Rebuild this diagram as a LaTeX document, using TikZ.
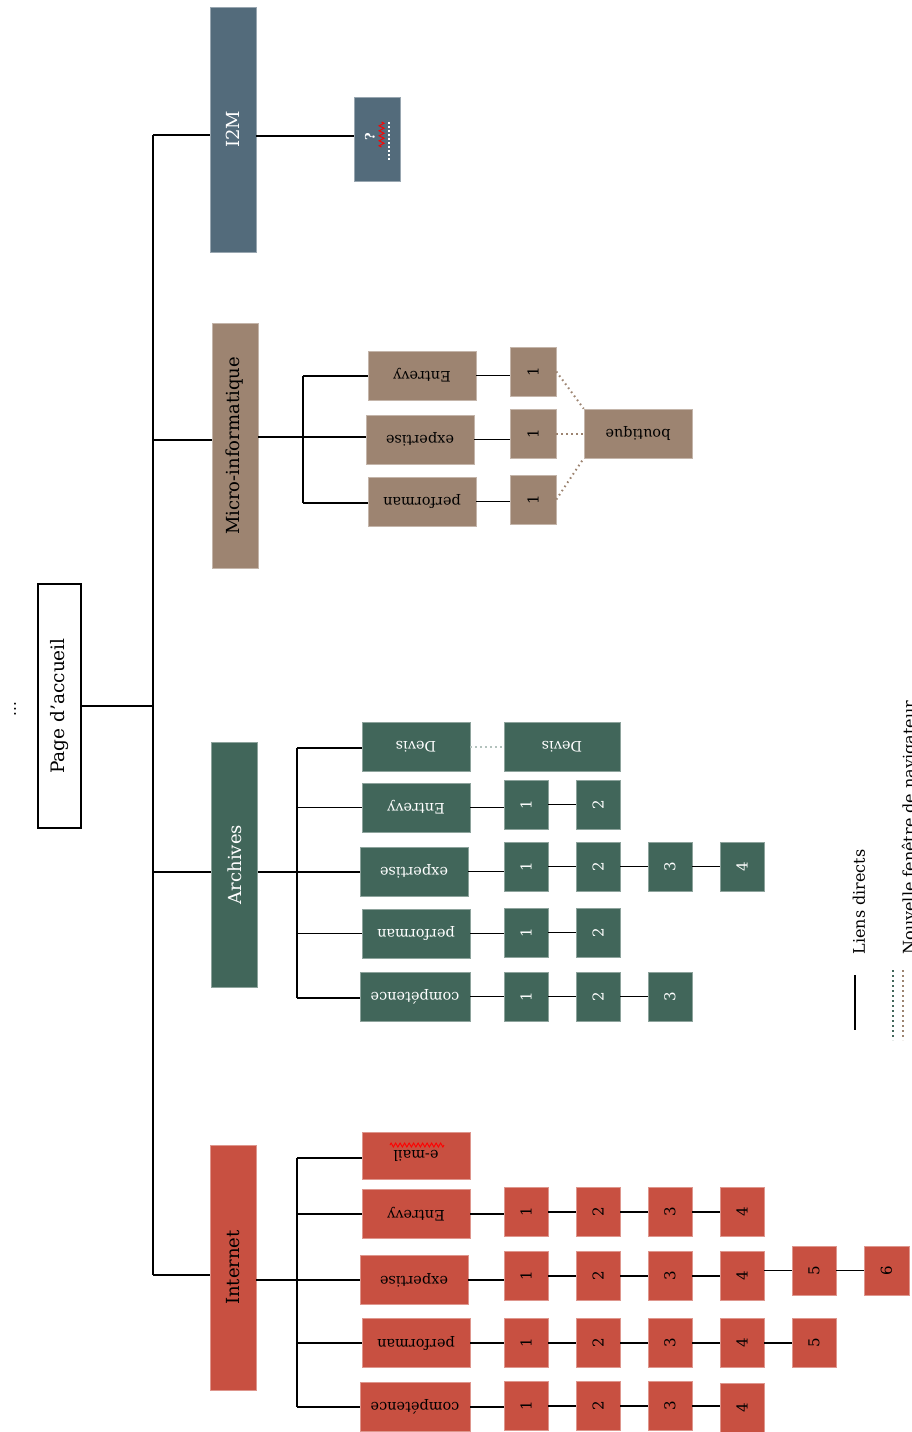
\documentclass[tikz,border=0pt]{standalone}
\usepackage{fontspec}
\setmainfont{DejaVu Serif}
\usetikzlibrary{decorations.pathmorphing}
\definecolor{cI}{HTML}{536B7B}
\definecolor{cM}{HTML}{9D8471}
\definecolor{cA}{HTML}{41665A}
\definecolor{cN}{HTML}{C85041}
\newcommand\rnine[1]{\rotatebox{90}{#1}}
\newcommand\rflip[1]{\rotatebox{180}{#1}}
\begin{document}
\begin{tikzpicture}[x=1pt,y=-1pt,
  box/.style={draw=#1!60!white, line width=0.6pt, fill=#1, inner sep=0pt},
  mainbox/.style={box=#1, minimum width=46pt, minimum height=245pt, font=\fontsize{18}{20}\selectfont},
  labbox/.style={box=#1, minimum width=108pt, minimum height=49pt, font=\fontsize{14.5}{16}\selectfont},
  numbox/.style={box=#1, minimum width=44pt, minimum height=49pt, font=\fontsize{15}{16}\selectfont},
  ln/.style={line width=1.4pt, black},
  dotln/.style={line width=2pt, dash pattern=on 1.6pt off 3.4pt, #1}
]
\useasboundingbox (0,0) rectangle (911,1432);

% root
\node[draw, line width=1.4pt, fill=white, minimum width=43pt, minimum height=244pt, inner sep=0pt,
  font=\fontsize{18.5}{20}\selectfont] (page) at (59.5,706) {\rnine{Page d'accueil}};
\node[font=\fontsize{15}{16}\selectfont] (dots) at (15,709) {\rnine{...}};

% main boxes
\node[mainbox=cI, text=white] (i2m) at (233,129.5) {\rnine{I2M}};
\node[mainbox=cM, text=black] (micro) at (235,446) {\rnine{Micro-informatique}};
\node[mainbox=cA, text=white] (arch) at (234.5,864.5) {\rnine{Archives}};
\node[mainbox=cN, text=black] (inet) at (233,1267.5) {\rnine{Internet}};

% trunk
\coordinate (tT) at (153,135);
\coordinate (tM) at (153,440);
\coordinate (tA) at (153,872);
\coordinate (tB) at (153,1275);
\draw[ln] (tT) -- (tB);
\draw[ln] (page.east) -- (page.east -| tT);
\draw[ln] (tT) -- (tT -| i2m.west);
\draw[ln] (tM) -- (tM -| micro.west);
\draw[ln] (tA) -- (tA -| arch.west);
\draw[ln] (tB) -- (tB -| inet.west);

% I2M child
\node[box=cI, minimum width=46pt, minimum height=84pt] (i2mc) at (377,139) {};
\draw[ln] (i2m.east |- 0,136) -- (i2mc.west |- 0,136);
\node[text=white, font=\fontsize{13}{14}\selectfont\bfseries] (q) at (370,137) {\rnine{?}};
\draw[red, line width=0.9pt, decorate, decoration={zigzag, amplitude=2.5pt, segment length=5pt}] (381.5,122) -- (381.5,147);
\draw[white, line width=1.6pt, dash pattern=on 1.5pt off 2.5pt] (389,122) -- (389,160);

% Micro-informatique
\node[labbox=cM] (mEnt) at (422,375.5) {\rflip{Entrevy}};
\node[labbox=cM] (mExp) at (420,439.5) {\rflip{expertise}};
\node[labbox=cM] (mPer) at (422,501.5) {\rflip{performan}};
\node[numbox=cM, minimum width=46pt] (m1a) at (533,371.5) {\rnine{1}};
\node[numbox=cM, minimum width=46pt] (m1b) at (533,433.5) {\rnine{1}};
\node[numbox=cM, minimum width=46pt] (m1c) at (533,499.5) {\rnine{1}};
\node[labbox=cM] (bout) at (638,433.5) {\rflip{boutique}};
\coordinate (mT) at (303,376);
\coordinate (mB) at (303,503);
\draw[ln] (mT) -- (mB);
\draw[ln] (micro.east |- 0,437) -- (mExp.west |- 0,437);
\draw[ln] (mT) -- (mT -| mEnt.west);
\draw[ln] (mB) -- (mB -| mPer.west);
\draw[ln] (mEnt.east) -- (mEnt.east -| m1a.west);
\draw[ln] (mExp.east) -- (mExp.east -| m1b.west);
\draw[ln] (mPer.east) -- (mPer.east -| m1c.west);
\draw[dotln=cM] (m1a.east) -- (bout.north west);
\draw[dotln=cM] (m1b.east) -- (bout.west);
\draw[dotln=cM] (m1c.east) -- (bout.south west);

% Archives
\begin{scope}[every node/.append style={text=white}]
\node[labbox=cA] (aDev) at (416,746.5) {\rflip{Devis}};
\node[labbox=cA, minimum width=116pt] (aDev2) at (562,746.5) {\rflip{Devis}};
\node[labbox=cA] (aEnt) at (416,807.5) {\rflip{Entrevy}};
\node[numbox=cA] (aE1) at (526,804.5) {\rnine{1}};
\node[numbox=cA] (aE2) at (598,804.5) {\rnine{2}};
\node[labbox=cA] (aExp) at (414,871.5) {\rflip{expertise}};
\node[numbox=cA] (aX1) at (526,866.5) {\rnine{1}};
\node[numbox=cA] (aX2) at (598,866.5) {\rnine{2}};
\node[numbox=cA] (aX3) at (670,866.5) {\rnine{3}};
\node[numbox=cA] (aX4) at (742,866.5) {\rnine{4}};
\node[labbox=cA] (aPer) at (416,933.5) {\rflip{performan}};
\node[numbox=cA] (aP1) at (526,932.5) {\rnine{1}};
\node[numbox=cA] (aP2) at (598,932.5) {\rnine{2}};
\node[labbox=cA, minimum width=110pt] (aCom) at (415,996.5) {\rflip{compétence}};
\node[numbox=cA] (aC1) at (526,996.5) {\rnine{1}};
\node[numbox=cA] (aC2) at (598,996.5) {\rnine{2}};
\node[numbox=cA] (aC3) at (670,996.5) {\rnine{3}};
\end{scope}
\coordinate (aT) at (297,748);
\coordinate (aB) at (297,998);
\draw[ln] (aT) -- (aB);
\draw[ln] (arch.east |- tA) -- (aExp.west |- tA);
\draw[ln] (aT) -- (aT -| aDev.west);
\draw[ln] (aEnt.west -| aT) -- (aEnt.west);
\draw[ln] (aPer.west -| aT) -- (aPer.west);
\draw[ln] (aB) -- (aB -| aCom.west);
\draw[dotln=cA!40!white] (aDev.east) -- (aDev2.west);
\draw[ln] (aEnt.east) -- (aEnt.east -| aE1.west);
\draw[ln] (aE1) -- (aE2);
\draw[ln] (aExp.east) -- (aExp.east -| aX1.west);
\draw[ln] (aX1) -- (aX2); \draw[ln] (aX2) -- (aX3); \draw[ln] (aX3) -- (aX4);
\draw[ln] (aPer.east) -- (aPer.east -| aP1.west);
\draw[ln] (aP1) -- (aP2);
\draw[ln] (aCom.east) -- (aCom.east -| aC1.west);
\draw[ln] (aC1) -- (aC2); \draw[ln] (aC2) -- (aC3);

% Internet
\node[labbox=cN, minimum height=47pt] (iMail) at (416,1156) {\rflip{e-mail}};
\draw[red, line width=0.9pt, decorate, decoration={zigzag, amplitude=2pt, segment length=4.5pt}] (390,1145) -- (444,1145);
\node[labbox=cN] (iEnt) at (416,1214) {\rflip{Entrevy}};
\node[numbox=cN] (iE1) at (526,1212) {\rnine{1}};
\node[numbox=cN] (iE2) at (598,1212) {\rnine{2}};
\node[numbox=cN] (iE3) at (670,1212) {\rnine{3}};
\node[numbox=cN] (iE4) at (742,1212) {\rnine{4}};
\node[labbox=cN] (iExp) at (414,1280) {\rflip{expertise}};
\node[numbox=cN] (iX1) at (526,1276) {\rnine{1}};
\node[numbox=cN] (iX2) at (598,1276) {\rnine{2}};
\node[numbox=cN] (iX3) at (670,1276) {\rnine{3}};
\node[numbox=cN] (iX4) at (742,1276) {\rnine{4}};
\node[numbox=cN] (iX5) at (814,1270.5) {\rnine{5}};
\node[numbox=cN, minimum width=45pt] (iX6) at (886.5,1270.5) {\rnine{6}};
\node[labbox=cN] (iPer) at (416,1343) {\rflip{performan}};
\node[numbox=cN] (iP1) at (526,1343) {\rnine{1}};
\node[numbox=cN] (iP2) at (598,1343) {\rnine{2}};
\node[numbox=cN] (iP3) at (670,1343) {\rnine{3}};
\node[numbox=cN] (iP4) at (742,1343) {\rnine{4}};
\node[numbox=cN] (iP5) at (814,1343) {\rnine{5}};
\node[labbox=cN, minimum width=110pt] (iCom) at (415,1407) {\rflip{compétence}};
\node[numbox=cN] (iC1) at (526,1406) {\rnine{1}};
\node[numbox=cN] (iC2) at (598,1406) {\rnine{2}};
\node[numbox=cN] (iC3) at (670,1406) {\rnine{3}};
\node[numbox=cN] (iC4) at (742,1408) {\rnine{4}};
\coordinate (iT) at (297,1158);
\coordinate (iB) at (297,1407);
\draw[ln] (iT) -- (iB);
\draw[ln] (inet.east |- 0,1280) -- (iExp.west);
\draw[ln] (iT) -- (iT -| iMail.west);
\draw[ln] (iEnt.west -| iT) -- (iEnt.west);
\draw[ln] (iPer.west -| iT) -- (iPer.west);
\draw[ln] (iB) -- (iB -| iCom.west);
\draw[ln] (iEnt.east) -- (iEnt.east -| iE1.west);
\draw[ln] (iE1) -- (iE2); \draw[ln] (iE2) -- (iE3); \draw[ln] (iE3) -- (iE4);
\draw[ln] (iExp.east) -- (iExp.east -| iX1.west);
\draw[ln] (iX1) -- (iX2); \draw[ln] (iX2) -- (iX3); \draw[ln] (iX3) -- (iX4);
\draw[ln] (iX4.east |- iX5.west) -- (iX5.west);
\draw[ln] (iX5) -- (iX6);
\draw[ln] (iPer.east) -- (iPer.east -| iP1.west);
\draw[ln] (iP1) -- (iP2); \draw[ln] (iP2) -- (iP3); \draw[ln] (iP3) -- (iP4); \draw[ln] (iP4) -- (iP5);
\draw[ln] (iCom.east) -- (iCom.east -| iC1.west);
\draw[ln] (iC1) -- (iC2); \draw[ln] (iC2) -- (iC3); \draw[ln] (iC3.east) -- (iC3.east -| iC4.west);

% legend
\coordinate (l1a) at (855,975);
\coordinate (l1b) at (855,1030);
\draw[ln] (l1a) -- (l1b);
\node[font=\fontsize{16}{17}\selectfont, anchor=south] (lt1) at (859,958) {\rnine{Liens directs}};
\coordinate (l2a) at (893,970);
\coordinate (l2b) at (893,1040);
\coordinate (l3a) at (903,970);
\coordinate (l3b) at (903,1040);
\draw[dotln=cA, line width=1.6pt] (l2a) -- (l2b);
\draw[dotln=cM, line width=1.6pt] (l3a) -- (l3b);
\node[font=\fontsize{16}{17}\selectfont, anchor=south] (lt2) at (910,958) {\rnine{Nouvelle fenêtre de navigateur}};
\end{tikzpicture}
\end{document}
